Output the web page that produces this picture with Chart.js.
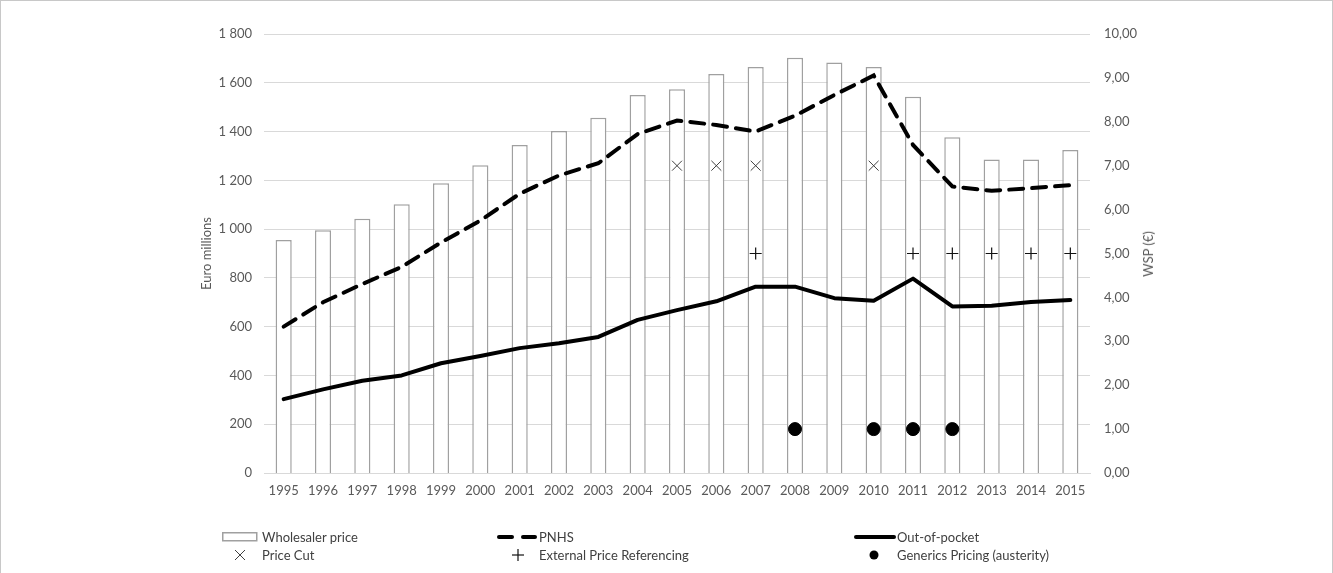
<!DOCTYPE html>
<html>
<head>
<meta charset="utf-8">
<script src="https://cdn.jsdelivr.net/npm/chart.js@4.4.1/dist/chart.umd.min.js"></script>
<style>
  html, body { margin: 0; padding: 0; background: #fff; }
  #wrap { position: relative; width: 1333px; height: 573px; overflow: hidden; }
  #frame { position: absolute; left: 0; top: 0; width: 1333px; height: 580px; box-sizing: border-box; border: 1px solid #c8c8c8; pointer-events: none; }
  #chart { position: absolute; left: 0; top: 0; }
  .lg-text { position: absolute; font: 13px Lato, sans-serif; color: #404040; line-height: 16px; white-space: nowrap; }
  .lg-sym { position: absolute; }
  #rtitle { position: absolute; left: 1148px; top: 254px; font: 13px Lato, sans-serif; color: #595959; white-space: nowrap;
            transform: translate(-50%, -50%) rotate(-90deg); }
</style>
</head>
<body>
<div id="wrap">
  <canvas id="chart" width="1333" height="573"></canvas>
  <div id="rtitle">WSP (€)</div>
  <div id="legend"></div>
  <div id="frame"></div>
</div>
<script>
  // data
  var years = ['1995', '1996', '1997', '1998', '1999', '2000', '2001', '2002', '2003', '2004', '2005',
               '2006', '2007', '2008', '2009', '2010', '2011', '2012', '2013', '2014', '2015'];

  // WSP (€), right axis
  var wholesalerPrice = [5.31, 5.53, 5.79, 6.12, 6.60, 7.01, 7.47, 7.79, 8.09, 8.61, 8.74,
                         9.09, 9.25, 9.46, 9.35, 9.25, 8.57, 7.65, 7.14, 7.14, 7.36];

  // Euro millions, left axis
  var pnhs = [600, 700, 775, 845, 945, 1035, 1145, 1220, 1270, 1390, 1445,
              1427, 1400, 1465, 1550, 1630, 1345, 1175, 1157, 1168, 1180];
  var outOfPocket = [303, 343, 378, 400, 450, 480, 512, 532, 558, 628, 668,
                     704, 764, 764, 717, 706, 797, 683, 686, 701, 709];

  // policy markers, plotted on the WSP axis
  var priceCut = [null, null, null, null, null, null, null, null, null, null, 7,
                  7, 7, null, null, 7, null, null, null, null, null];
  var externalRef = [null, null, null, null, null, null, null, null, null, null, null,
                     null, 5, null, null, null, 5, 5, 5, 5, 5];
  var genericsPricing = [null, null, null, null, null, null, null, null, null, null, null,
                         null, null, 1, null, 1, 1, 1, null, null, null];

  var tickColor = '#595959';
  var gridColor = '#d9d9d9';
  var font = { family: 'Lato', size: 13 };

  function euroMillions(v) {
    if (v >= 1000) {
      return Math.floor(v / 1000) + ' ' + String(v % 1000).padStart(3, '0');
    }
    return String(v);
  }

  function markerSet(label, data, style, radius, color, width) {
    return {
      type: 'line',
      label: label,
      data: data,
      yAxisID: 'y1',
      showLine: false,
      pointStyle: style,
      pointRadius: radius,
      pointBorderColor: color,
      pointBackgroundColor: color,
      pointBorderWidth: width,
      order: 0
    };
  }

  var ctx = document.getElementById('chart').getContext('2d');
  var chart = new Chart(ctx, {
    type: 'bar',
    data: {
      labels: years,
      datasets: [
        {
          type: 'bar',
          label: 'Wholesaler price',
          data: wholesalerPrice,
          yAxisID: 'y1',
          backgroundColor: '#ffffff',
          borderColor: '#a0a0a0',
          borderWidth: 1.5,
          categoryPercentage: 1,
          barPercentage: 0.41,
          order: 10
        },
        {
          type: 'line',
          label: 'PNHS',
          data: pnhs,
          yAxisID: 'y',
          borderColor: '#000',
          borderWidth: 4,
          borderDash: [14, 9],
          borderCapStyle: 'round',
          pointRadius: 0,
          tension: 0,
          order: 2
        },
        {
          type: 'line',
          label: 'Out-of-pocket',
          data: outOfPocket,
          yAxisID: 'y',
          borderColor: '#000',
          borderWidth: 4,
          borderCapStyle: 'round',
          borderJoinStyle: 'round',
          pointRadius: 0,
          tension: 0,
          order: 2
        },
        markerSet('Price Cut', priceCut, 'crossRot', 7, '#404040', 1),
        markerSet('External Price Referencing', externalRef, 'cross', 6, '#111', 1.2),
        markerSet('Generics Pricing (austerity)', genericsPricing, 'circle', 6.5, '#000', 1)
      ]
    },
    options: {
      responsive: false,
      animation: false,
      layout: { padding: { left: 195, right: 173, top: 34, bottom: 70 } },
      plugins: {
        legend: { display: false },
        tooltip: { enabled: false }
      },
      scales: {
        x: {
          offset: true,
          grid: { display: false, drawTicks: false },
          border: { display: true, color: gridColor },
          ticks: { color: tickColor, font: font, padding: 10, maxRotation: 0 },
          afterFit: function(scale) { scale.height = 30; }
        },
        y: {
          position: 'left',
          min: 0,
          max: 1800,
          ticks: { stepSize: 200, color: tickColor, font: font, padding: 12, callback: euroMillions },
          grid: { color: gridColor, drawTicks: false },
          border: { display: false },
          title: { display: true, text: 'Euro millions', color: tickColor, font: font },
          afterFit: function(scale) { scale.width = 69; }
        },
        y1: {
          position: 'right',
          min: 0,
          max: 10,
          ticks: {
            stepSize: 1, color: tickColor, font: font, padding: 14,
            callback: function(v) { return v.toFixed(2).replace('.', ','); }
          },
          grid: { display: false, drawTicks: false },
          border: { display: false },
          afterFit: function(scale) { scale.width = 70; }
        }
      }
    }
  });

  // legend laid out in two rows of three, as in the reference
  var legendItems = [
    { text: 'Wholesaler price', x: 262, y: 537, sym: '<rect x="0.75" y="0.75" width="34" height="8" fill="#fff" stroke="#a0a0a0" stroke-width="1.5"/>', sx: 222, sw: 36, sh: 10 },
    { text: 'PNHS', x: 539, y: 537, sym: '<line x1="2" y1="5" x2="15" y2="5" stroke="#000" stroke-width="4" stroke-linecap="round"/><line x1="26" y1="5" x2="38" y2="5" stroke="#000" stroke-width="4" stroke-linecap="round"/>', sx: 497, sw: 40, sh: 10 },
    { text: 'Out-of-pocket', x: 897, y: 537, sym: '<line x1="2" y1="5" x2="40" y2="5" stroke="#000" stroke-width="4" stroke-linecap="round"/>', sx: 854, sw: 42, sh: 10 },
    { text: 'Price Cut', x: 262, y: 555, sym: '<line x1="1" y1="1" x2="11" y2="11" stroke="#404040" stroke-width="1"/><line x1="11" y1="1" x2="1" y2="11" stroke="#404040" stroke-width="1"/>', sx: 234, sw: 12, sh: 12 },
    { text: 'External Price Referencing', x: 539, y: 555, sym: '<line x1="6" y1="0" x2="6" y2="12" stroke="#111" stroke-width="1.2"/><line x1="0" y1="6" x2="12" y2="6" stroke="#111" stroke-width="1.2"/>', sx: 512, sw: 12, sh: 12 },
    { text: 'Generics Pricing (austerity)', x: 897, y: 555, sym: '<circle cx="6" cy="6" r="4.5" fill="#000"/>', sx: 868, sw: 12, sh: 12 }
  ];

  var legendEl = document.getElementById('legend');
  legendItems.forEach(function(it) {
    var svg = document.createElementNS('http://www.w3.org/2000/svg', 'svg');
    svg.setAttribute('class', 'lg-sym');
    svg.setAttribute('width', it.sw);
    svg.setAttribute('height', it.sh);
    svg.style.left = it.sx + 'px';
    svg.style.top = (it.y - it.sh / 2) + 'px';
    svg.innerHTML = it.sym;
    legendEl.appendChild(svg);

    var t = document.createElement('div');
    t.className = 'lg-text';
    t.style.left = it.x + 'px';
    t.style.top = (it.y - 8) + 'px';
    t.textContent = it.text;
    legendEl.appendChild(t);
  });
</script>
</body>
</html>
